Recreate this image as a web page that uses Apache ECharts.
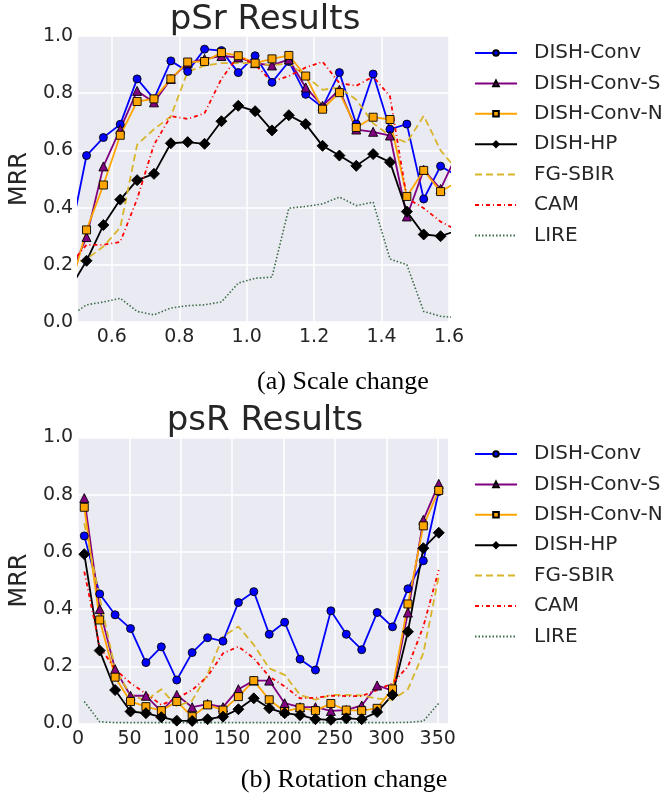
<!DOCTYPE html>
<html>
<head>
<meta charset="UTF-8">
<title>pSr / psR Results</title>
<script src="https://cdn.jsdelivr.net/npm/echarts@6/dist/echarts.min.js"></script>
<style>
html,body{margin:0;padding:0;background:#fff;}
#main{width:670px;height:799px;}
</style>
</head>
<body>
<div id="main"></div>
<script>
// (a) scale change - first and last points sit just outside the axis and get clipped
var scaleX = [0.475, 0.525, 0.575, 0.625, 0.675, 0.725, 0.775, 0.825, 0.875, 0.925, 0.975, 1.025,
              1.075, 1.125, 1.175, 1.225, 1.275, 1.325, 1.375, 1.425, 1.475, 1.525, 1.575, 1.625];
var sConv  = [0.29, 0.582, 0.645, 0.691, 0.850, 0.780, 0.913, 0.876, 0.954, 0.949, 0.872, 0.931,
              0.838, 0.911, 0.796, 0.751, 0.872, 0.692, 0.867, 0.674, 0.692, 0.430, 0.545, 0.51];
var sConvS = [0.16, 0.297, 0.544, 0.674, 0.808, 0.768, 0.850, 0.905, 0.920, 0.930, 0.925, 0.905,
              0.897, 0.918, 0.820, 0.756, 0.812, 0.673, 0.665, 0.652, 0.369, 0.532, 0.465, 0.59];
var sConvN = [0.11, 0.322, 0.479, 0.653, 0.771, 0.780, 0.850, 0.909, 0.911, 0.942, 0.931, 0.905,
              0.920, 0.932, 0.860, 0.744, 0.802, 0.680, 0.716, 0.708, 0.439, 0.530, 0.456, 0.49];
var sHP    = [0.116, 0.214, 0.339, 0.428, 0.496, 0.518, 0.625, 0.629, 0.623, 0.702, 0.756, 0.737,
              0.670, 0.723, 0.692, 0.616, 0.582, 0.546, 0.587, 0.559, 0.386, 0.306, 0.300, 0.32];
var sFG    = [0.20, 0.22, 0.264, 0.33, 0.62, 0.674, 0.719, 0.876, 0.896, 0.905, 0.905, 0.905,
              0.897, 0.905, 0.860, 0.812, 0.820, 0.777, 0.695, 0.651, 0.627, 0.721, 0.600, 0.53];
var sCAM   = [0.20, 0.27, 0.27, 0.28, 0.43, 0.62, 0.72, 0.71, 0.73, 0.85, 0.93, 0.90,
              0.84, 0.86, 0.89, 0.91, 0.835, 0.826, 0.858, 0.789, 0.433, 0.398, 0.351, 0.32];
var sLIRE  = [0.02, 0.06, 0.07, 0.083, 0.037, 0.025, 0.049, 0.057, 0.06, 0.07, 0.136, 0.153,
              0.157, 0.398, 0.404, 0.413, 0.437, 0.407, 0.419, 0.22, 0.20, 0.037, 0.02, 0.015];
var scaleTicks = [0.6, 0.8, 1.0, 1.2, 1.4, 1.6];

// (b) rotation change, degrees
var rotX = [6, 21, 36, 51, 66, 81, 96, 111, 126, 141, 156, 171,
            186, 201, 216, 231, 246, 261, 276, 291, 306, 321, 336, 351];
var rConv  = [0.656, 0.453, 0.380, 0.332, 0.213, 0.268, 0.152, 0.248, 0.300, 0.288, 0.423, 0.461,
              0.312, 0.354, 0.225, 0.187, 0.394, 0.312, 0.258, 0.388, 0.338, 0.471, 0.569, 0.811];
var rConvS = [0.788, 0.400, 0.190, 0.097, 0.097, 0.042, 0.100, 0.057, 0.068, 0.057, 0.120, 0.150,
              0.150, 0.071, 0.057, 0.057, 0.044, 0.047, 0.063, 0.133, 0.115, 0.388, 0.712, 0.838];
var rConvN = [0.756, 0.362, 0.162, 0.077, 0.059, 0.045, 0.077, 0.024, 0.065, 0.047, 0.094, 0.150,
              0.083, 0.042, 0.055, 0.045, 0.070, 0.047, 0.045, 0.053, 0.121, 0.418, 0.691, 0.815];
var rHP    = [0.592, 0.255, 0.117, 0.042, 0.036, 0.022, 0.010, 0.009, 0.015, 0.024, 0.050, 0.088,
              0.053, 0.036, 0.029, 0.015, 0.013, 0.018, 0.015, 0.040, 0.100, 0.321, 0.613, 0.667];
var rFG    = [0.70, 0.44, 0.19, 0.10, 0.08, 0.12, 0.06, 0.08, 0.173, 0.304, 0.339, 0.275,
              0.193, 0.17, 0.10, 0.083, 0.10, 0.10, 0.098, 0.087, 0.083, 0.12, 0.246, 0.514];
var rCAM   = [0.531, 0.269, 0.19, 0.141, 0.105, 0.065, 0.088, 0.117, 0.165, 0.245, 0.269, 0.228,
              0.164, 0.13, 0.088, 0.09, 0.097, 0.096, 0.096, 0.117, 0.141, 0.199, 0.339, 0.537];
var rLIRE  = [0.077, 0.006, 0.003, 0.003, 0.003, 0.003, 0.003, 0.003, 0.003, 0.003, 0.003, 0.003,
              0.003, 0.003, 0.003, 0.003, 0.003, 0.003, 0.003, 0.003, 0.003, 0.004, 0.008, 0.071];
var rotTicks = [0, 50, 100, 150, 200, 250, 300, 350];

var names = ['DISH-Conv', 'DISH-Conv-S', 'DISH-Conv-N', 'DISH-HP', 'FG-SBIR', 'CAM', 'LIRE'];
var FONT = '"DejaVu Sans", Verdana, sans-serif';
var SERIF = '"Liberation Serif", "Times New Roman", serif';
var TXT = '#262626';

// look of each method
var looks = [
  {color: '#0000ff', symbol: 'circle',   size: 8,  type: 'solid'},
  {color: '#800080', symbol: 'triangle', size: 9,  type: 'solid'},
  {color: '#ffa500', symbol: 'rect',     size: 8,  type: 'solid'},
  {color: '#000000', symbol: 'diamond',  size: 11, type: 'solid'},
  {color: '#d8b52a', symbol: 'none',     size: 0,  type: [7, 4]},
  {color: '#ff0000', symbol: 'none',     size: 0,  type: [4, 3, 1, 3]},
  {color: '#3b6b46', symbol: 'none',     size: 0,  type: [1.5, 2]}
];

function mk(i, xs, ys, idx) {
  var lk = looks[i];
  var pts = [];
  for (var k = 0; k < xs.length; k++) pts.push([xs[k], ys[k]]);
  return {
    name: names[i], type: 'line', xAxisIndex: idx, yAxisIndex: idx,
    data: pts, clip: true, animation: false,
    symbol: lk.symbol, symbolSize: lk.size, showSymbol: lk.symbol != 'none',
    lineStyle: {color: lk.color, width: i == 6 ? 1.6 : 1.8, type: lk.type},
    itemStyle: {color: lk.color, borderColor: '#000', borderWidth: lk.symbol == 'none' ? 0 : 0.9}
  };
}

var topSets = [sConv, sConvS, sConvN, sHP, sFG, sCAM, sLIRE];
var botSets = [rConv, rConvS, rConvN, rHP, rFG, rCAM, rLIRE];
var series = [];
for (var i = 0; i < 7; i++) series.push(mk(i, scaleX, topSets[i], 0));
for (var i = 0; i < 7; i++) series.push(mk(i, rotX, botSets[i], 1));

function yAx(gi) {
  return {
    type: 'value', gridIndex: gi, min: 0, max: 1, interval: 0.2,
    name: 'MRR', nameLocation: 'middle', nameGap: 38,
    nameTextStyle: {fontFamily: FONT, fontSize: 24, color: TXT},
    axisLine: {show: false}, axisTick: {show: false},
    axisLabel: {fontFamily: FONT, fontSize: 19, color: TXT, margin: 5,
                formatter: function (v) { return v.toFixed(1); }},
    splitLine: {lineStyle: {color: '#ffffff', width: 1.5}}
  };
}
function xAx(gi, lo, hi, ticks, fmt) {
  return {
    type: 'value', gridIndex: gi, min: lo, max: hi,
    axisLine: {show: false},
    axisTick: {show: false, customValues: ticks},
    axisLabel: {fontFamily: FONT, fontSize: 19, color: TXT, margin: 6,
                customValues: ticks, formatter: fmt},
    splitLine: {lineStyle: {color: '#ffffff', width: 1.5}}
  };
}
function legendAt(top) {
  var items = [];
  for (var i = 0; i < names.length; i++) {
    // dashed/dotted methods have no marker in the key
    items.push(looks[i].symbol == 'none'
      ? {name: names[i], itemStyle: {opacity: 0}}
      : {name: names[i]});
  }
  return {
    data: items, orient: 'vertical', left: 474, top: top, padding: 0,
    itemWidth: 42, itemHeight: 7, itemGap: 10.4, selectedMode: false,
    textStyle: {fontFamily: FONT, fontSize: 20, color: TXT, lineHeight: 20, padding: [0, 0, 0, 12]}
  };
}
function txt(s, x, y, font, color) {
  return {type: 'text', x: x, y: y, silent: true,
          style: {text: s, font: font, fill: color, align: 'center', verticalAlign: 'middle'}};
}

var chart = echarts.init(document.getElementById('main'), null, {renderer: 'canvas'});
chart.setOption({
  backgroundColor: '#ffffff',
  animation: false,
  grid: [
    {left: 78, top: 36, width: 371, height: 286, show: true, backgroundColor: '#eaeaf2', borderWidth: 0},
    {left: 78, top: 437.5, width: 370, height: 286, show: true, backgroundColor: '#eaeaf2', borderWidth: 0}
  ],
  xAxis: [
    xAx(0, 0.5, 1.6, scaleTicks, function (v) { return v.toFixed(1); }),
    xAx(1, 0, 360, rotTicks, function (v) { return String(v); })
  ],
  yAxis: [yAx(0), yAx(1)],
  legend: [legendAt(43), legendAt(444)],
  graphic: [
    txt('pSr Results', 265, 20, '34px ' + FONT, TXT),
    txt('psR Results', 265, 421, '34px ' + FONT, TXT),
    txt('(a) Scale change', 343, 382, '26px ' + SERIF, '#000'),
    txt('(b) Rotation change', 344, 780, '26px ' + SERIF, '#000')
  ],
  series: series
});
</script>
</body>
</html>
